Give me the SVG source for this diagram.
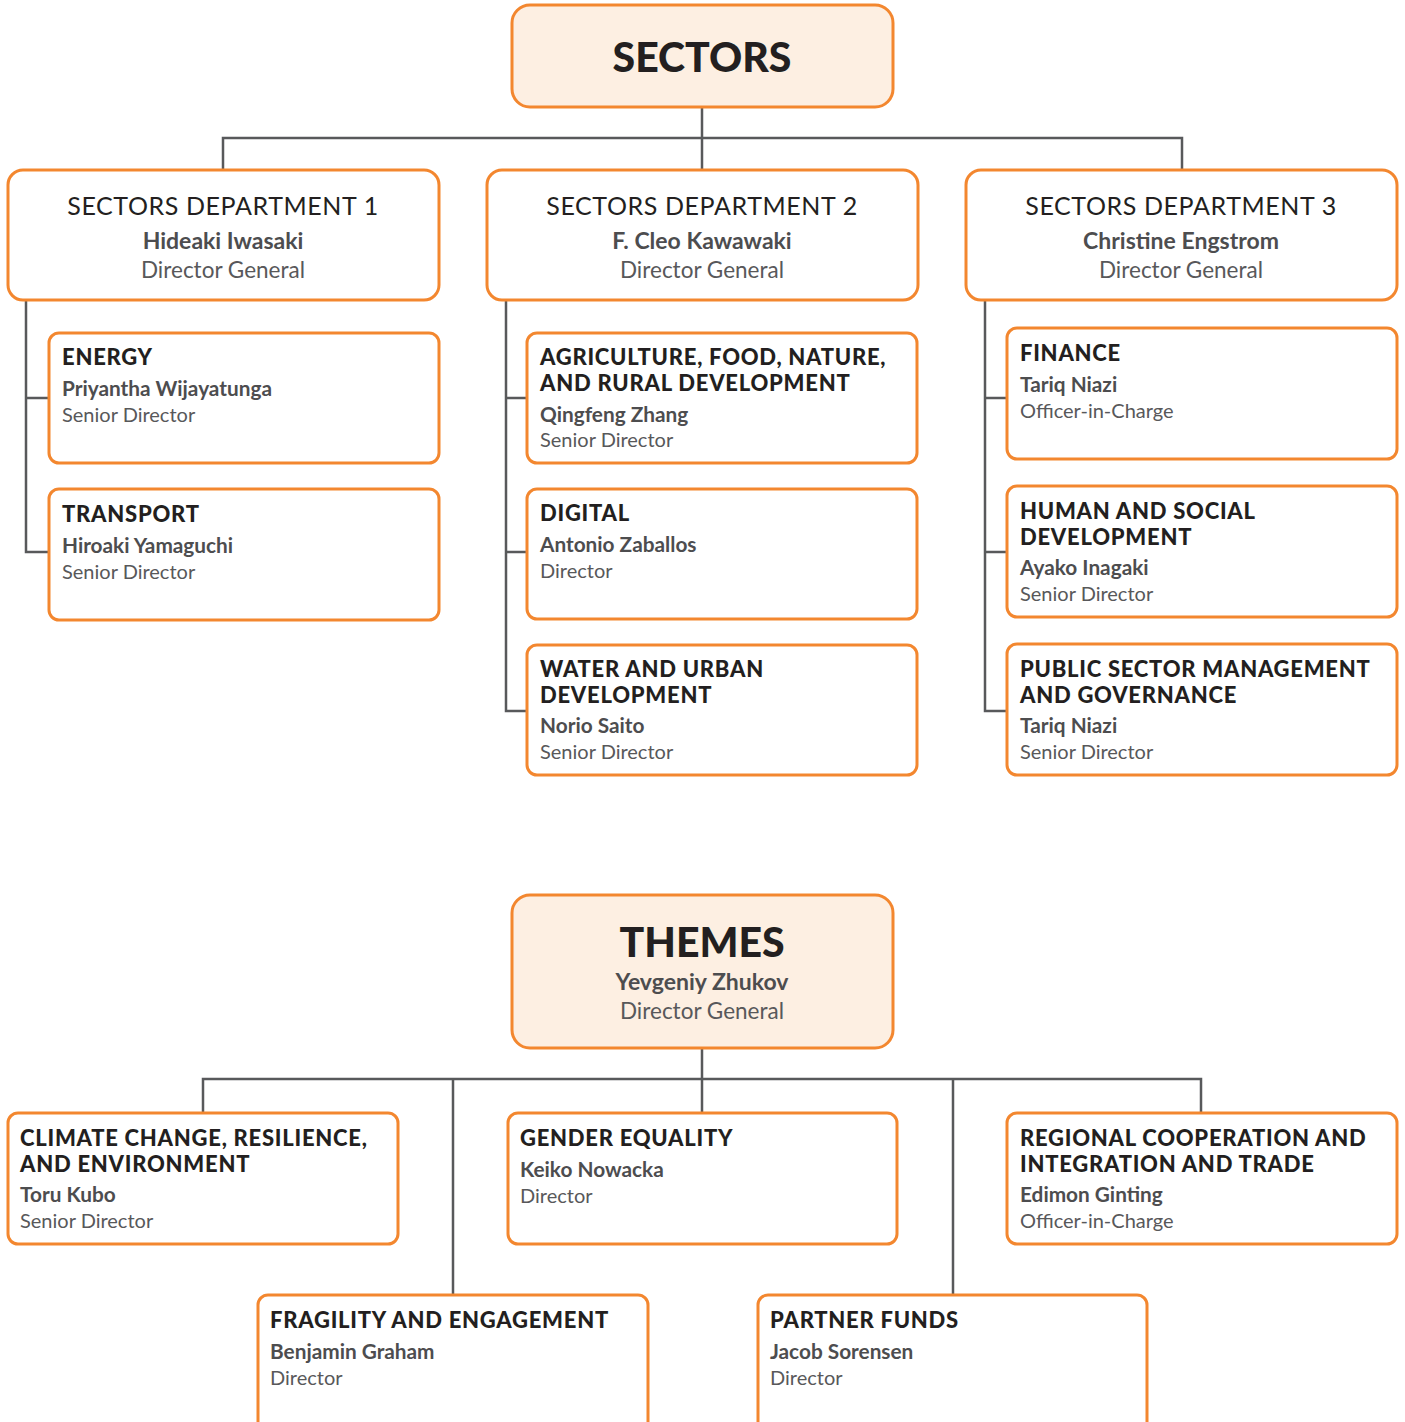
<svg xmlns="http://www.w3.org/2000/svg" width="1405" height="1422" viewBox="0 0 1405 1422">
<style>
.box{fill:#fff;stroke:#f3872f;stroke-width:3}
.top{fill:#fdefe2;stroke:#f3872f;stroke-width:3}
.ln{fill:none;stroke:#58595b;stroke-width:2.5}
text{font-family:Lato,"Noto Sans",sans-serif}
.big{font-size:41px;font-weight:900;fill:#231f20;text-anchor:middle}
.big2{font-size:41px;font-weight:900;fill:#231f20;text-anchor:middle;letter-spacing:0px}
.dt{font-size:25px;fill:#231f20;text-anchor:middle;letter-spacing:0.6px}
.dn{font-size:23px;font-weight:700;fill:#4d4d4f;text-anchor:middle}
.dr{font-size:22.5px;fill:#58585a;text-anchor:middle}
.t{font-size:22px;font-weight:900;fill:#231f20;letter-spacing:0.75px}
.n{font-size:20.8px;font-weight:700;fill:#4d4d4f}
.r{font-size:20px;fill:#58585a}
</style>
<g id="connectors">
<path class="ln" d="M702 107V170M223 170V138H1182V170"/>
<path class="ln" d="M26 300V552H49M26 398H49"/>
<path class="ln" d="M506 300V711H527M506 398H527M506 552H527"/>
<path class="ln" d="M985 300V711H1007M985 398H1007M985 552H1007"/>
<path class="ln" d="M702 1048V1113M203 1113V1079H1201V1113M453 1079V1295M953 1079V1295"/>
</g>
<g id="sectors"><rect class="top" x="512" y="5" width="381" height="102" rx="18"/><text class="big" x="702" y="72">SECTORS</text></g>
<g id="dept1"><rect class="box" x="8" y="170" width="431" height="130" rx="15"/><text class="dt" x="223" y="215">SECTORS DEPARTMENT 1</text><text class="dn" x="223" y="249">Hideaki Iwasaki</text><text class="dr" x="223" y="278">Director General</text></g>
<g id="dept2"><rect class="box" x="487" y="170" width="431" height="130" rx="15"/><text class="dt" x="702" y="215">SECTORS DEPARTMENT 2</text><text class="dn" x="702" y="249">F. Cleo Kawawaki</text><text class="dr" x="702" y="278">Director General</text></g>
<g id="dept3"><rect class="box" x="966" y="170" width="431" height="130" rx="15"/><text class="dt" x="1181" y="215">SECTORS DEPARTMENT 3</text><text class="dn" x="1181" y="249">Christine Engstrom</text><text class="dr" x="1181" y="278">Director General</text></g>
<g id="energy"><rect class="box" x="49" y="333" width="390" height="130" rx="10"/><text class="t" x="62" y="365">ENERGY</text><text class="n" x="62" y="396">Priyantha Wijayatunga</text><text class="r" x="62" y="422">Senior Director</text></g>
<g id="transport"><rect class="box" x="49" y="489" width="390" height="131" rx="10"/><text class="t" x="62" y="522">TRANSPORT</text><text class="n" x="62" y="553">Hiroaki Yamaguchi</text><text class="r" x="62" y="579">Senior Director</text></g>
<g id="agriculture"><rect class="box" x="527" y="333" width="390" height="130" rx="10"/><text class="t" x="540" y="365">AGRICULTURE, FOOD, NATURE,</text><text class="t" x="540" y="391">AND RURAL DEVELOPMENT</text><text class="n" x="540" y="422">Qingfeng Zhang</text><text class="r" x="540" y="447">Senior Director</text></g>
<g id="digital"><rect class="box" x="527" y="489" width="390" height="130" rx="10"/><text class="t" x="540" y="521">DIGITAL</text><text class="n" x="540" y="552">Antonio Zaballos</text><text class="r" x="540" y="578">Director</text></g>
<g id="water"><rect class="box" x="527" y="645" width="390" height="130" rx="10"/><text class="t" x="540" y="677">WATER AND URBAN</text><text class="t" x="540" y="703">DEVELOPMENT</text><text class="n" x="540" y="733">Norio Saito</text><text class="r" x="540" y="759">Senior Director</text></g>
<g id="finance"><rect class="box" x="1007" y="328" width="390" height="131" rx="10"/><text class="t" x="1020" y="361">FINANCE</text><text class="n" x="1020" y="392">Tariq Niazi</text><text class="r" x="1020" y="418">Officer-in-Charge</text></g>
<g id="human"><rect class="box" x="1007" y="486" width="390" height="131" rx="10"/><text class="t" x="1020" y="519">HUMAN AND SOCIAL</text><text class="t" x="1020" y="545">DEVELOPMENT</text><text class="n" x="1020" y="575">Ayako Inagaki</text><text class="r" x="1020" y="601">Senior Director</text></g>
<g id="public"><rect class="box" x="1007" y="644" width="390" height="131" rx="10"/><text class="t" x="1020" y="677">PUBLIC SECTOR MANAGEMENT</text><text class="t" x="1020" y="703">AND GOVERNANCE</text><text class="n" x="1020" y="733">Tariq Niazi</text><text class="r" x="1020" y="759">Senior Director</text></g>
<g id="themes"><rect class="top" x="512" y="895" width="381" height="153" rx="18"/><text class="big2" x="702" y="957">THEMES</text><text class="dn" x="702" y="990">Yevgeniy Zhukov</text><text class="dr" x="702" y="1019">Director General</text></g>
<g id="climate"><rect class="box" x="8" y="1113" width="390" height="131" rx="10"/><text class="t" x="20" y="1146">CLIMATE CHANGE, RESILIENCE,</text><text class="t" x="20" y="1172">AND ENVIRONMENT</text><text class="n" x="20" y="1202">Toru Kubo</text><text class="r" x="20" y="1228">Senior Director</text></g>
<g id="gender"><rect class="box" x="508" y="1113" width="389" height="131" rx="10"/><text class="t" x="520" y="1146">GENDER EQUALITY</text><text class="n" x="520" y="1177">Keiko Nowacka</text><text class="r" x="520" y="1203">Director</text></g>
<g id="regional"><rect class="box" x="1007" y="1113" width="390" height="131" rx="10"/><text class="t" x="1020" y="1146">REGIONAL COOPERATION AND</text><text class="t" x="1020" y="1172">INTEGRATION AND TRADE</text><text class="n" x="1020" y="1202">Edimon Ginting</text><text class="r" x="1020" y="1228">Officer-in-Charge</text></g>
<g id="fragility"><rect class="box" x="258" y="1295" width="390" height="140" rx="10"/><text class="t" x="270" y="1328">FRAGILITY AND ENGAGEMENT</text><text class="n" x="270" y="1359">Benjamin Graham</text><text class="r" x="270" y="1385">Director</text></g>
<g id="partner"><rect class="box" x="758" y="1295" width="389" height="140" rx="10"/><text class="t" x="770" y="1328">PARTNER FUNDS</text><text class="n" x="770" y="1359">Jacob Sorensen</text><text class="r" x="770" y="1385">Director</text></g>
</svg>
